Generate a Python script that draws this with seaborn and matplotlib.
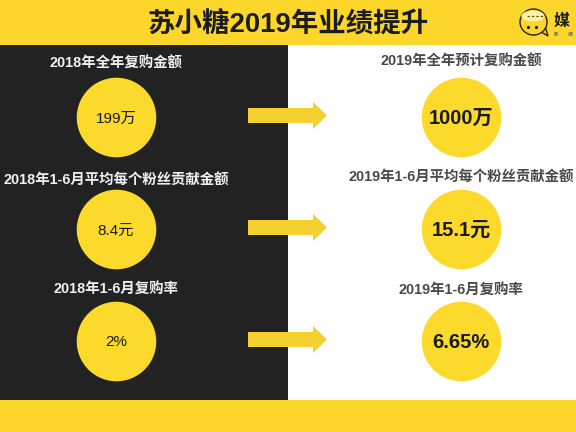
"""
苏小糖 2019 业绩提升 - before/after comparison panel
"""

import matplotlib
matplotlib.use("Agg")
import matplotlib.pyplot as plt
from matplotlib.patches import Ellipse, Polygon
import pandas as pd
import seaborn as sns

YELLOW = "#FDD62B"
CIRCLE = "#FBDA2B"
DARK = "#222222"
TEXT_GREY = "#4a4a4a"
W, H = 576, 432

title = "苏小糖2019年业绩提升"
periods = [0, 0, 0, 1, 1, 1]
rows = [0, 1, 2, 0, 1, 2]
labels = ["2018年全年复购金额", "2018年1-6月平均每个粉丝贡献金额", "2018年1-6月复购率",
          "2019年全年预计复购金额", "2019年1-6月平均每个粉丝贡献金额", "2019年1-6月复购率"]
values = ["199万", "8.4元", "2%", "1000万", "15.1元", "6.65%"]

sns.set_theme(style="white")
plt.rcParams["font.family"] = ["Liberation Sans", "Noto Sans CJK SC", "DejaVu Sans"]

df = pd.DataFrame({"period": periods, "row": rows, "label": labels, "value": values})

fig = plt.figure(figsize=(W / 100, H / 100), dpi=100)
ax = fig.add_axes([0, 0, 1, 1])

# pixel layout of the two columns and three rows
COL_X = {0: 116, 1: 461}
ROW_Y = {0: 117, 1: 229, 2: 341}
LABEL_Y = {(0, 0): 64, (0, 1): 180, (0, 2): 290, (1, 0): 62, (1, 1): 177, (1, 2): 291}
df["px"] = df["period"].map(COL_X)
df["py"] = df["row"].map(ROW_Y)

ax.set_xlim(0, W)
ax.set_ylim(H, 0)
ax.axvspan(0, 288, color=DARK, lw=0, zorder=0)
ax.axhspan(0, 45, color=YELLOW, lw=0, zorder=1)
ax.axhspan(400, H, color=YELLOW, lw=0, zorder=1)

sns.scatterplot(data=df, x="px", y="py", s=3280, color=CIRCLE, linewidth=0,
                legend=False, ax=ax, zorder=3)

for r in df.itertuples():
    after = r.period == 1
    ax.text(r.px, LABEL_Y[(r.period, r.row)], r.label, ha="center", va="center",
            fontsize=10.4, fontweight="bold",
            color=TEXT_GREY if after else "#f0f0f0", zorder=4)
    ax.text(r.px, r.py + 1.5, r.value, ha="center", va="center",
            fontsize=14.5 if after else 11, fontweight="bold" if after else "normal",
            color="#1a1a1a", zorder=4)

# arrows between the columns
for y in ROW_Y.values():
    yc = y - 1.5
    ax.add_patch(Polygon([(248, yc - 7.5), (313, yc - 7.5), (313, yc - 13.5), (327, yc),
                          (313, yc + 13.5), (313, yc + 7.5), (248, yc + 7.5)],
                         closed=True, fc="#F5D02E", ec="none", zorder=3))

ax.text(288, 24, title, ha="center", va="center", fontsize=19.8, fontweight="bold",
        color="#1c1c1c", zorder=4)

# logo bubble
ax.add_patch(Polygon([(538, 30), (548, 36), (545, 26)], closed=True, fc=YELLOW,
                     ec="#222222", lw=1, zorder=4))
ax.add_patch(Ellipse((533.5, 22), 27, 26, fc=YELLOW, ec="#222222", lw=1, zorder=4))
ax.add_patch(Ellipse((533, 16), 23, 11, fc="#fff3a8", ec="none", zorder=5))
ax.plot([527, 545], [16, 16], color="#6b5a10", lw=0.9, ls=(0, (2, 1.5)), zorder=6)
ax.plot([528, 536], [27, 27], ls="none", marker="o", ms=1.3, color="#222222", zorder=6)
ax.text(561.5, 21, "媒", ha="center", va="center", fontsize=11.5, fontweight="bold",
        color="#1c1c1c", zorder=4)
ax.text(556, 34, "新", ha="center", va="center", fontsize=3.5, color="#555555", zorder=4)
ax.text(570, 34, "媒", ha="center", va="center", fontsize=3.5, color="#555555", zorder=4)

ax.set_xlabel("")
ax.set_ylabel("")
ax.set_xticks([])
ax.set_yticks([])
sns.despine(ax=ax, left=True, bottom=True)

fig.savefig("out.png", dpi=100)
plt.close()
